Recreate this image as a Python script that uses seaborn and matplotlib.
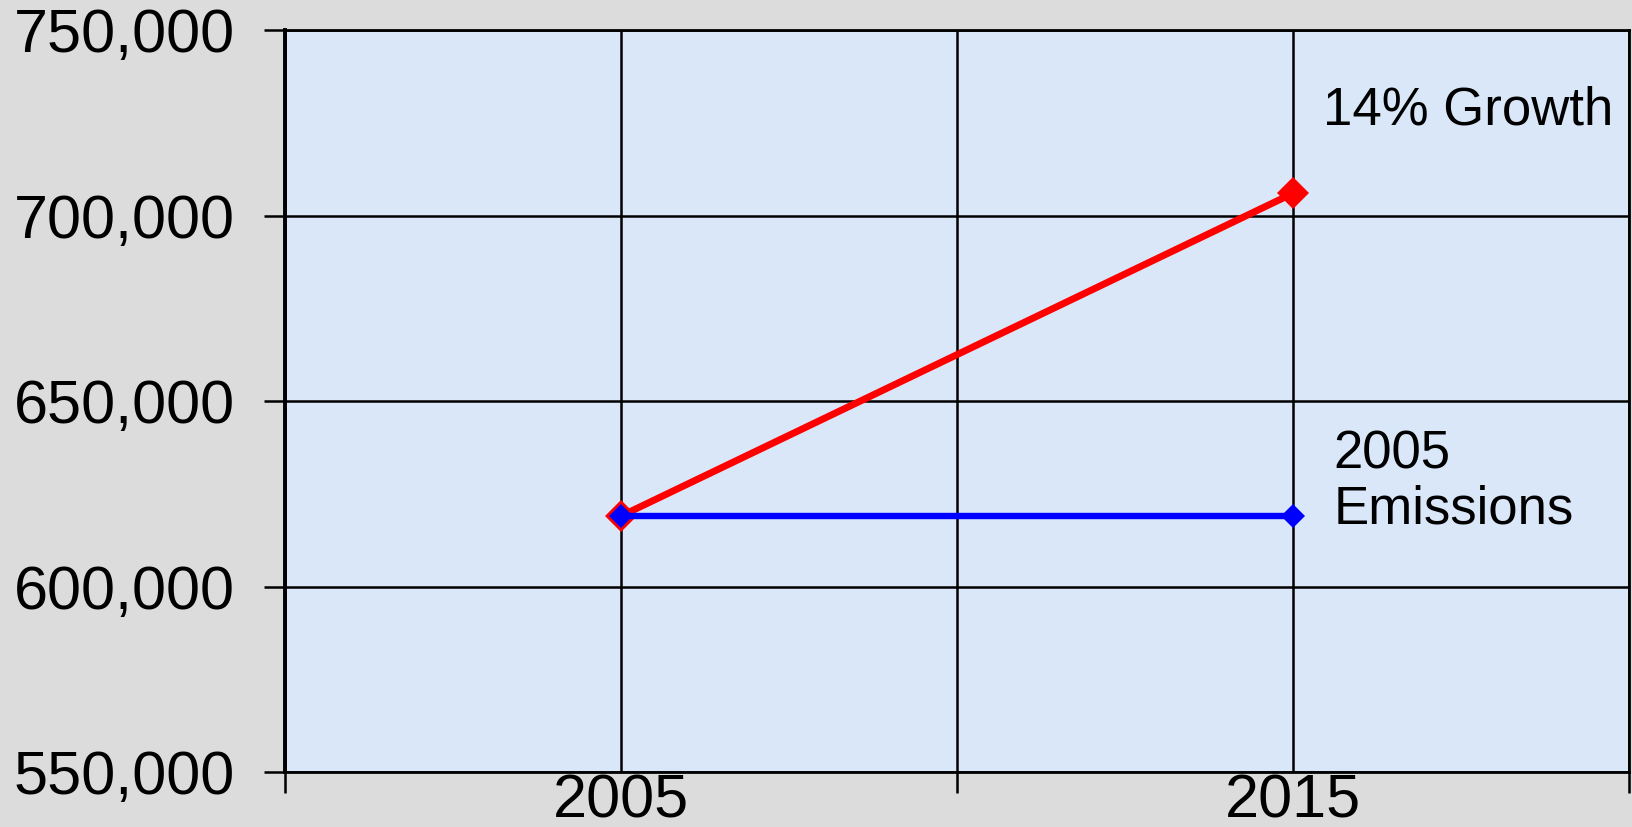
import matplotlib
matplotlib.use("Agg")
import matplotlib.pyplot as plt
import matplotlib.ticker as mticker
import seaborn as sns
import pandas as pd

# ---- data ----
years = [2005, 2015]
growth_values = [619000, 706000]      # 14% growth scenario
baseline_values = [619000, 619000]    # 2005 emissions held flat
year_labels = ["2005", "2015"]
y_ticks = [550000, 600000, 650000, 700000, 750000]
growth_label = "14% Growth"
baseline_label = "2005\nEmissions"

df = pd.DataFrame({
    "year": years * 2,
    "value": growth_values + baseline_values,
    "series": ["growth"] * len(years) + ["baseline"] * len(years),
})

sns.set_style("white")
plt.rcParams["font.family"] = ["Liberation Sans", "DejaVu Sans"]
plt.rcParams["text.color"] = "black"
plt.rcParams["xtick.color"] = "black"
plt.rcParams["ytick.color"] = "black"
plt.rcParams["xtick.labelcolor"] = "black"
plt.rcParams["ytick.labelcolor"] = "black"

fig = plt.figure(figsize=(16.33, 8.27), dpi=100)
fig.patch.set_facecolor("#dcdcdc")
ax = fig.add_axes([0.1745, 0.0665, 0.8231, 0.8972])
ax.set_facecolor("#d9e7f8")

sns.lineplot(data=df[df.series == "growth"], x="year", y="value", ax=ax,
             color="#ff0000", linewidth=5, marker="D", markersize=16.5,
             markeredgewidth=0, zorder=3)
sns.lineplot(data=df[df.series == "baseline"], x="year", y="value", ax=ax,
             color="#0000ff", linewidth=4.6, marker="D", markersize=12.5,
             markeredgewidth=0, zorder=4)

ax.set_xlim(2000, 2020)
ax.set_ylim(y_ticks[0], y_ticks[-1])
ax.set_xlabel("")
ax.set_ylabel("")

# x: major ticks at category boundaries, labels at category centres
ax.xaxis.set_major_locator(mticker.FixedLocator([2000, 2010, 2020]))
ax.xaxis.set_major_formatter(mticker.NullFormatter())
ax.xaxis.set_minor_locator(mticker.FixedLocator(years))
ax.xaxis.set_minor_formatter(mticker.FixedFormatter(year_labels))
ax.tick_params(axis="x", which="major", direction="out", length=15,
               width=1.8, color="black", bottom=True)
ax.tick_params(axis="x", which="minor", length=0, pad=1, labelsize=44,
               bottom=True, labelbottom=True, labelcolor="black")

ax.set_yticks(y_ticks)
ax.yaxis.set_major_formatter(mticker.FuncFormatter(lambda v, p: f"{int(v):,}"))
ax.tick_params(axis="y", direction="out", length=15, width=1.8,
               color="black", left=True, labelsize=44, pad=21,
               labelcolor="black")

ax.grid(True, axis="x", which="both", color="black", linewidth=1.8, zorder=1)
ax.grid(True, axis="y", which="major", color="black", linewidth=1.8, zorder=1)
ax.set_axisbelow(True)

for s in ax.spines.values():
    s.set_color("black")
    s.set_linewidth(2)
    s.set_visible(True)
ax.spines["left"].set_linewidth(2.8)

if ax.get_legend():
    ax.get_legend().remove()

ax.text(2015.45, 724400, growth_label, fontsize=38, ha="left", va="baseline",
        color="black")
ax.text(2015.6, 617100, baseline_label, fontsize=38, ha="left",
        va="baseline", linespacing=1.12, color="black")

fig.savefig("out.png", dpi=100, facecolor=fig.get_facecolor())
